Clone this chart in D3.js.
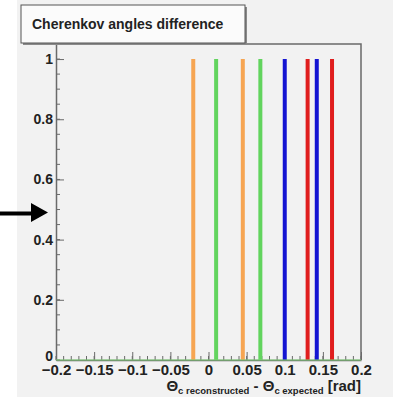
<!DOCTYPE html>
<html>
<head>
<meta charset="utf-8">
<script src="https://cdn.jsdelivr.net/npm/d3@7"></script>
<style>
  body { margin: 0; background: #fff; }
  svg { display: block; font-family: "Liberation Sans", Arial, sans-serif; }
  .axis text { font-weight: bold; fill: #222; }
  .axis path, .axis line { stroke: #6a6a6a; }
</style>
</head>
<body>
<svg id="chart" width="393" height="397"></svg>
<script>
// peak positions per colour (rad), all with height 1
var orangeX = [-0.02, 0.045];
var greenX = [0.01, 0.068];
var blueX = [0.1, 0.142];
var redX = [0.13, 0.162];
var peakHeight = 1;

var xTicks = [-0.2, -0.15, -0.1, -0.05, 0, 0.05, 0.1, 0.15, 0.2];
var yTicks = [0, 0.2, 0.4, 0.6, 0.8, 1];

var svg = d3.select("#chart");

// canvas background
svg.append("rect")
  .attr("x", 17).attr("y", 0)
  .attr("width", 376).attr("height", 397)
  .attr("fill", "#f2f2f2");

var box = { left: 56, right: 361, top: 44, bottom: 360 };

var x = d3.scaleLinear().domain([-0.2, 0.2]).range([box.left, box.right]);
var y = d3.scaleLinear().domain([0, 1.05]).range([box.bottom, box.top]);

// frame top and right
svg.append("path")
  .attr("d", "M" + box.left + "," + box.top + "H" + box.right + "V" + box.bottom)
  .attr("fill", "none")
  .attr("stroke", "#6a6a6a")
  .attr("stroke-width", 1.5);

// minor ticks
var xMinor = d3.range(-0.2, 0.2001, 0.01);
svg.append("g").selectAll("line").data(xMinor).enter().append("line")
  .attr("x1", function(d) { return x(d); })
  .attr("x2", function(d) { return x(d); })
  .attr("y1", box.bottom).attr("y2", box.bottom - 4)
  .attr("stroke", "#6a6a6a");
var yMinor = d3.range(0, 1.0001, 0.05);
svg.append("g").selectAll("line").data(yMinor).enter().append("line")
  .attr("x1", box.left).attr("x2", box.left + 4)
  .attr("y1", function(d) { return y(d); })
  .attr("y2", function(d) { return y(d); })
  .attr("stroke", "#6a6a6a");

var xAxis = d3.axisBottom(x)
  .tickValues(xTicks)
  .tickSize(-8)
  .tickSizeOuter(0)
  .tickPadding(5)
  .tickFormat(function(d) { return d3.format("~g")(d); });
var xg = svg.append("g")
  .attr("class", "axis")
  .attr("transform", "translate(0," + box.bottom + ")")
  .call(xAxis);
xg.selectAll("text").style("font-size", "15px").attr("dy", "0.68em");
xg.select(".domain").attr("stroke-width", 1.5);

var yAxis = d3.axisLeft(y)
  .tickValues(yTicks)
  .tickSize(-8)
  .tickSizeOuter(0)
  .tickPadding(3)
  .tickFormat(function(d) { return d3.format("~g")(d); });
var yg = svg.append("g")
  .attr("class", "axis")
  .attr("transform", "translate(" + box.left + ",0)")
  .call(yAxis);
yg.selectAll("text").style("font-size", "14px");
// the zero label sits slightly above its tick, as in ROOT
yg.selectAll(".tick text").filter(function(d) { return d === 0; }).attr("y", -4);
yg.select(".domain").attr("stroke-width", 1.5);

// peaks
var peaks = []
  .concat(orangeX.map(function(v) { return { x: v, c: "#f6a552" }; }))
  .concat(greenX.map(function(v) { return { x: v, c: "#62d45e" }; }))
  .concat(blueX.map(function(v) { return { x: v, c: "#1414d2" }; }))
  .concat(redX.map(function(v) { return { x: v, c: "#e01e1e" }; }));

svg.append("g").selectAll("line").data(peaks).enter().append("line")
  .attr("x1", function(d) { return x(d.x); })
  .attr("x2", function(d) { return x(d.x); })
  .attr("y1", y(0))
  .attr("y2", y(peakHeight))
  .attr("stroke", function(d) { return d.c; })
  .attr("stroke-width", 4);

// green baseline of the histogram
svg.append("line")
  .attr("x1", x(-0.2)).attr("x2", x(0.2))
  .attr("y1", y(0)).attr("y2", y(0))
  .attr("stroke", "#7ccf74")
  .attr("stroke-width", 1.2);

// axis title
var t = svg.append("text")
  .attr("x", box.right)
  .attr("y", 391)
  .attr("text-anchor", "end")
  .style("font-weight", "bold")
  .style("font-size", "15px")
  .attr("fill", "#222");
t.append("tspan").text("\u0398");
t.append("tspan").attr("dy", 3).style("font-size", "9.5px").text("c reconstructed");
t.append("tspan").attr("dy", -3).text(" - \u0398");
t.append("tspan").attr("dy", 3).style("font-size", "9.5px").text("c expected");
t.append("tspan").attr("dy", -3).text(" [rad]");

// title box
svg.append("rect")
  .attr("x", 23).attr("y", 7)
  .attr("width", 224).attr("height", 38)
  .attr("fill", "#8a8a8a");
svg.append("rect")
  .attr("x", 21).attr("y", 5)
  .attr("width", 224).attr("height", 38)
  .attr("fill", "#fbfbfb")
  .attr("stroke", "#555")
  .attr("stroke-width", 1);
svg.append("text")
  .attr("x", 32).attr("y", 29)
  .style("font-weight", "bold")
  .style("font-size", "14px")
  .attr("fill", "#222")
  .text("Cherenkov angles difference");

// arrow marker on the left
svg.append("path")
  .attr("d", "M0,211.5H31V203L48,212.5L31,222V215.5H0Z")
  .attr("fill", "#000");
</script>
</body>
</html>
